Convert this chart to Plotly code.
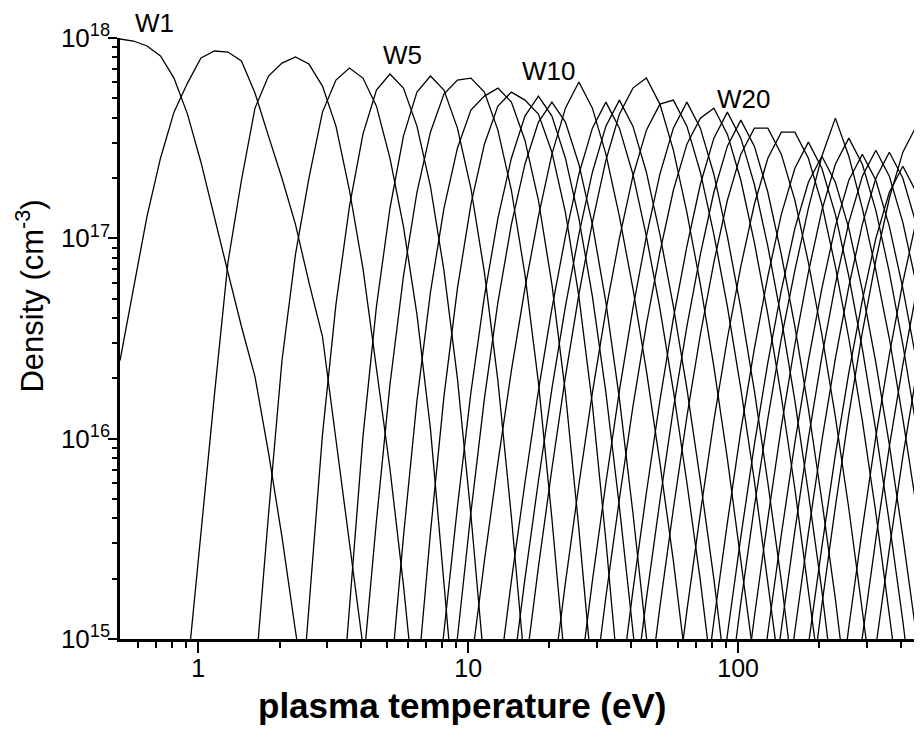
import plotly.graph_objects as go

# temperature grid of the calculation (eV), 20 points per decade
temperature_eV = [
    0.5129, 0.5754, 0.6457, 0.7244, 0.8128, 0.9120, 1.023, 1.148, 1.288, 1.445,
    1.622, 1.820, 2.042, 2.291, 2.570, 2.884, 3.236, 3.631, 4.074, 4.571,
    5.129, 5.754, 6.457, 7.244, 8.128, 9.120, 10.23, 11.48, 12.88, 14.45,
    16.22, 18.20, 20.42, 22.91, 25.70, 28.84, 32.36, 36.31, 40.74, 45.71,
    51.29, 57.54, 64.57, 72.44, 81.28, 91.20, 102.3, 114.8, 128.8, 144.5,
    162.2, 182.0, 204.2, 229.1, 257.0, 288.4, 323.6, 363.1, 407.4, 457.1,
    512.9, 575.4, 645.7, 724.4,
]

# log10 of the ion density (cm^-3) of each charge state
w1 = [17.995, 17.985, 17.96, 17.91, 17.80, 17.62, 17.38, 17.10, 16.83, 16.56, 16.31, 15.93, 15.51, 15.04, 14.6]
w2 = [16.39, 16.75, 17.11, 17.40, 17.63, 17.775, 17.90, 17.935, 17.93, 17.885, 17.725, 17.51, 17.30, 17.07, 16.78, 16.51, 15.99, 15.47, 14.97, 14.45]
w3 = [14.84, 15.54, 16.22, 16.88, 17.29, 17.65, 17.81, 17.875, 17.905, 17.87, 17.76, 17.56, 17.24, 16.85, 16.36, 15.85, 15.27, 14.6]
w4 = [14.8, 15.62, 16.39, 16.92, 17.30, 17.63, 17.79, 17.85, 17.80, 17.66, 17.40, 17.06, 16.62, 16.05, 15.28, 14.5]
w5 = [14.3, 15.17, 16.02, 16.67, 17.16, 17.52, 17.74, 17.82, 17.75, 17.56, 17.26, 16.84, 16.30, 15.62, 14.87, 14.1]
w6 = [14.3, 15.16, 16.01, 16.66, 17.15, 17.51, 17.73, 17.81, 17.74, 17.55, 17.25, 16.83, 16.29, 15.61, 14.86, 14.1]
w7 = [14.1, 14.84, 15.59, 16.27, 16.81, 17.23, 17.53, 17.72, 17.79, 17.80, 17.73, 17.54, 17.24, 16.82, 16.28, 15.60, 14.85, 14.1]
w8 = [14.0, 14.76, 15.51, 16.19, 16.73, 17.15, 17.45, 17.64, 17.71, 17.75, 17.68, 17.49, 17.19, 16.77, 16.23, 15.55, 14.8, 14.05]
w9 = [14.0, 14.78, 15.53, 16.21, 16.75, 17.17, 17.47, 17.66, 17.73, 17.69, 17.62, 17.43, 17.13, 16.71, 16.17, 15.49, 14.74, 14.0]
w10 = [14.41, 15.04, 15.66, 16.23, 16.71, 17.10, 17.40, 17.61, 17.71, 17.61, 17.40, 17.10, 16.71, 16.23, 15.66, 15.04, 14.41]
w11 = [14.38, 15.01, 15.63, 16.20, 16.68, 17.07, 17.37, 17.58, 17.68, 17.58, 17.37, 17.07, 16.68, 16.20, 15.63, 15.01, 14.38]
w12 = [14.28, 14.86, 15.39, 15.88, 16.34, 16.75, 17.11, 17.42, 17.65, 17.78, 17.65, 17.42, 17.11, 16.75, 16.34, 15.88, 15.39, 14.86, 14.28]
w13 = [14.18, 14.76, 15.29, 15.78, 16.24, 16.65, 17.01, 17.32, 17.55, 17.68, 17.55, 17.32, 17.01, 16.65, 16.24, 15.78, 15.29, 14.76, 14.18]
w14 = [14.19, 14.77, 15.30, 15.79, 16.25, 16.66, 17.02, 17.33, 17.56, 17.69, 17.56, 17.33, 17.02, 16.66, 16.25, 15.79, 15.30, 14.77, 14.19]
w15 = [14.25, 14.83, 15.36, 15.85, 16.31, 16.72, 17.08, 17.39, 17.62, 17.75, 17.80, 17.67, 17.44, 17.13, 16.77, 16.36, 15.90, 15.41, 14.88, 14.30]
w16 = [14.17, 14.75, 15.28, 15.77, 16.23, 16.64, 17.00, 17.31, 17.54, 17.67, 17.69, 17.56, 17.33, 17.02, 16.66, 16.25, 15.79, 15.30, 14.77, 14.19]
w17 = [14.18, 14.76, 15.29, 15.78, 16.24, 16.65, 17.01, 17.32, 17.55, 17.68, 17.55, 17.32, 17.01, 16.65, 16.24, 15.78, 15.29, 14.76, 14.18]
w18 = [14.1, 14.68, 15.21, 15.70, 16.16, 16.57, 16.93, 17.24, 17.47, 17.60, 17.65, 17.52, 17.29, 16.98, 16.62, 16.21, 15.75, 15.26, 14.73, 14.15]
w19 = [14.13, 14.71, 15.24, 15.73, 16.19, 16.60, 16.96, 17.27, 17.50, 17.63, 17.50, 17.27, 16.96, 16.60, 16.19, 15.73, 15.24, 14.71, 14.13]
w20 = [14.09, 14.67, 15.20, 15.69, 16.15, 16.56, 16.92, 17.23, 17.46, 17.59, 17.46, 17.23, 16.92, 16.56, 16.15, 15.69, 15.20, 14.67, 14.09]
w21 = [14.05, 14.63, 15.16, 15.65, 16.11, 16.52, 16.88, 17.19, 17.42, 17.55, 17.55, 17.42, 17.19, 16.88, 16.52, 16.11, 15.65, 15.16, 14.63, 14.05]
w22 = [14.03, 14.61, 15.14, 15.63, 16.09, 16.50, 16.86, 17.17, 17.40, 17.53, 17.53, 17.40, 17.17, 16.86, 16.50, 16.09, 15.63, 15.14, 14.61, 14.03]
w23 = [13.98, 14.56, 15.09, 15.58, 16.04, 16.45, 16.81, 17.12, 17.35, 17.48, 17.35, 17.12, 16.81, 16.45, 16.04, 15.58, 15.09, 14.56, 13.98]
w24 = [13.91, 14.49, 15.02, 15.51, 15.97, 16.38, 16.74, 17.05, 17.28, 17.41, 17.28, 17.05, 16.74, 16.38, 15.97, 15.51, 15.02, 14.49, 13.91]
w25 = [14.66, 15.18, 15.66, 16.10, 16.50, 16.84, 17.15, 17.41, 17.60, 17.41, 17.15, 16.84, 16.50, 16.10, 15.66, 15.18, 14.66]
w26 = [14.0, 14.58, 15.11, 15.60, 16.06, 16.47, 16.83, 17.14, 17.37, 17.50, 17.37, 17.14, 16.83, 16.47, 16.06, 15.60, 15.11, 14.58]
w27 = [13.92, 14.50, 15.03, 15.52, 15.98, 16.39, 16.75, 17.06, 17.29, 17.42, 17.29, 17.06, 16.75, 16.39, 15.98, 15.52, 15.03]
w28 = [13.94, 14.52, 15.05, 15.54, 16.00, 16.41, 16.77, 17.08, 17.31, 17.44, 17.31, 17.08, 16.77, 16.41, 16.00, 15.54]
w29 = [13.93, 14.51, 15.04, 15.53, 15.99, 16.40, 16.76, 17.07, 17.30, 17.43, 17.30, 17.07, 16.76, 16.40, 15.99]
w30 = [14.44, 14.97, 15.46, 15.92, 16.33, 16.69, 17.00, 17.23, 17.36, 17.23, 17.00, 16.69, 16.33]
w31 = [14.06, 14.64, 15.17, 15.66, 16.12, 16.53, 16.89, 17.20, 17.43, 17.56, 17.56, 17.43, 17.20]
w32 = [13.95, 14.53, 15.06, 15.55, 16.01, 16.42, 16.78, 17.09, 17.32, 17.45, 17.32]
w33 = [13.90, 14.48, 15.01, 15.50, 15.96, 16.37, 16.73, 17.04, 17.27, 17.40]
w34 = [13.85, 14.43, 14.96, 15.45, 15.91, 16.32, 16.68, 16.99, 17.22, 17.35]

stages = [w1, w2, w3, w4, w5, w6, w7, w8, w9, w10, w11, w12, w13, w14, w15, w16, w17,
          w18, w19, w20, w21, w22, w23, w24, w25, w26, w27, w28, w29, w30, w31, w32, w33, w34]
# index in temperature_eV of the first point of each stage
first_index = [0, 0, 5, 10, 13, 16, 17, 19, 21, 23, 24, 25, 27, 28, 29, 31, 33,
               34, 36, 37, 38, 40, 42, 43, 45, 45, 46, 47, 48, 50, 50, 52, 53, 54]

# labelled stages: text, log10(T), log10(n)
stage_labels = [("W5", 0.756, 17.915), ("W10", 1.296, 17.835), ("W20", 2.019, 17.695)]

x_major = [1, 10, 100]
x_minor = [0.6, 0.7, 0.8, 0.9, 2, 3, 4, 5, 6, 7, 8, 9,
           20, 30, 40, 50, 60, 70, 80, 90, 200, 300, 400]
y_major = [1e15, 1e16, 1e17, 1e18]
y_minor = [m * 10 ** e for e in (15, 16, 17) for m in range(2, 10)]

FONT = "Liberation Sans, Arial, Helvetica, sans-serif"

fig = go.Figure()

for i, vals in enumerate(stages):
    s = first_index[i]
    fig.add_trace(go.Scatter(
        x=temperature_eV[s:s + len(vals)],
        y=[10 ** v for v in vals],
        mode="lines",
        name="W%d" % (i + 1),
        line=dict(color="black", width=1.3),
        showlegend=False,
    ))

for txt, lx, ly in stage_labels:
    fig.add_annotation(x=lx, y=ly, xref="x", yref="y", text=txt, showarrow=False,
                       xanchor="center", yanchor="middle",
                       font=dict(family=FONT, size=26, color="black"))
# W1 sits just above the top of the axis
fig.add_annotation(x=-0.163, y=1.025, xref="x", yref="paper", text="W1", showarrow=False,
                   xanchor="center", yanchor="middle",
                   font=dict(family=FONT, size=26, color="black"))

# axis titles
fig.add_annotation(x=0.426, y=-0.11, xref="paper", yref="paper",
                   text="<b>plasma temperature (eV)</b>", showarrow=False,
                   xanchor="center", yanchor="middle",
                   font=dict(family=FONT, size=35, color="black"))
fig.add_annotation(x=-0.112, y=0.57, xref="paper", yref="paper",
                   text="Density (cm<sup>-3</sup>)", textangle=-90, showarrow=False,
                   xanchor="center", yanchor="middle",
                   font=dict(family=FONT, size=31, color="black"))

fig.update_xaxes(
    type="log", range=[-0.29, 2.681],
    tickmode="array", tickvals=x_major, ticktext=["1", "10", "100"],
    ticks="outside", ticklen=11, tickwidth=2, tickcolor="black",
    ticklabelstandoff=-6,
    minor=dict(tickmode="array", tickvals=x_minor, ticks="outside", ticklen=6,
               tickwidth=2, tickcolor="black", showgrid=False),
    showline=True, linecolor="black", linewidth=2.5,
    showgrid=False, zeroline=False,
    tickfont=dict(family=FONT, size=25, color="black"),
)
fig.update_yaxes(
    type="log", range=[15, 18],
    tickmode="array", tickvals=y_major,
    ticktext=["10<sup>15</sup>", "10<sup>16</sup>", "10<sup>17</sup>", "10<sup>18</sup>"],
    ticks="outside", ticklen=9, tickwidth=2, tickcolor="black",
    ticklabelstandoff=-7,
    minor=dict(tickmode="array", tickvals=y_minor, ticks="outside", ticklen=5,
               tickwidth=2, tickcolor="black", showgrid=False),
    showline=True, linecolor="black", linewidth=2.5,
    showgrid=False, zeroline=False,
    tickfont=dict(family=FONT, size=26, color="black"),
)

# the page body has an 8 px margin, so the figure is 8 px smaller than the window
fig.update_layout(
    width=914, height=732,
    margin=dict(l=112, r=0, t=30, b=101),
    paper_bgcolor="white", plot_bgcolor="white",
    font=dict(family=FONT, color="black"),
    showlegend=False,
)

fig.write_html("out.html")
